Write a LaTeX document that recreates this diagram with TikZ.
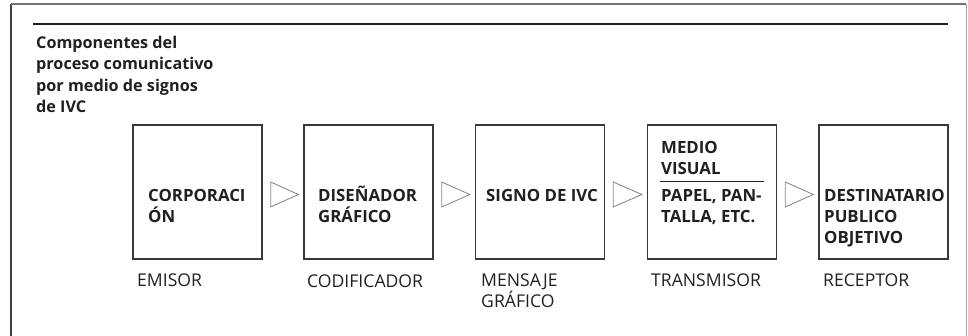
\documentclass[tikz,border=0pt]{standalone}
\usepackage{fontspec}
\setmainfont{Open Sans}
\usetikzlibrary{calc}
\definecolor{ink}{HTML}{231F20}
\definecolor{boxline}{HTML}{3A3838}
\definecolor{trig}{HTML}{8A8A8A}
\begin{document}
\begin{tikzpicture}[x=1pt,y=-1pt,
  stepbox/.style={draw=boxline,line width=1.4pt,minimum width=129pt,minimum height=134pt,inner sep=0pt},
  boxtxt/.style={anchor=base west,inner sep=0pt,font=\fontsize{16.8}{21.3}\selectfont\bfseries,text=ink,align=left},
  lbl/.style={anchor=base west,inner sep=0pt,font=\fontsize{17.6}{21.3}\selectfont,text=ink,align=left},
  tri/.style={draw=trig,line width=0.9pt,line join=miter}]
\useasboundingbox (0,0) rectangle (968,336);
% frame
\draw[line width=1.2pt,draw=black!75] (11,336) -- (11,4);
\draw[line width=1.2pt,draw=black!55] (11,4) -- (966,4);
\draw[line width=1pt,draw=black!35] (966,4) -- (966,336);
\draw[line width=1.3pt,draw=ink] (33,24) -- (948,24);
% title (base anchor = baseline of last line)
\node[anchor=base west,inner sep=0pt,font=\fontsize{16.2}{21.5}\selectfont\bfseries,text=ink,align=left] (title) at (36,113)
  {Componentes del\\proceso comunicativo\\por medio de signos\\de IVC};
% boxes
\node[stepbox] (b1) at (197.5,192) {};
\node[stepbox] (b2) at (368.5,192) {};
\node[stepbox] (b3) at (540,192) {};
\node[stepbox] (b4) at (712,192) {};
\node[stepbox] (b5) at (883.5,192) {};
% box texts
\node[boxtxt] (t1) at (148,222.5) {CORPORACI\\ÓN};
\node[boxtxt] (t2) at (318,222.5) {DISEÑADOR\\GRÁFICO};
\node[boxtxt] (t3) at (486,201.5) {SIGNO DE IVC};
\node[boxtxt] (t4a) at (661,175) {MEDIO\\VISUAL};
\node[boxtxt] (t4b) at (661,223) {PAPEL, PAN-\\TALLA, ETC.};
\node[boxtxt] (t5) at (824,244) {DESTINATARIO\\PUBLICO\\OBJETIVO};
\coordinate (r1) at (660,181.5);
\coordinate (r2) at (764,181.5);
\draw[line width=1.2pt,draw=ink] (r1) -- (r2);
% labels
\node[lbl] (l1) at (137,287) {EMISOR};
\node[lbl] (l2) at (307,287.5) {CODIFICADOR};
\node[lbl] (l3) at (481,308) {MENSAJE\\GRÁFICO};
\node[lbl] (l4) at (651,287) {TRANSMISOR};
\node[lbl] (l5) at (823,287) {RECEPTOR};
% triangles
\foreach \a/\b in {b1/b2,b2/b3,b3/b4,b4/b5}{
  \draw[tri] ($(\a.east)+(8,-10)$) -- ($(\b.west)+(-5,2.5)$) -- ($(\a.east)+(8,15)$) -- cycle;
}
\end{tikzpicture}
\end{document}
